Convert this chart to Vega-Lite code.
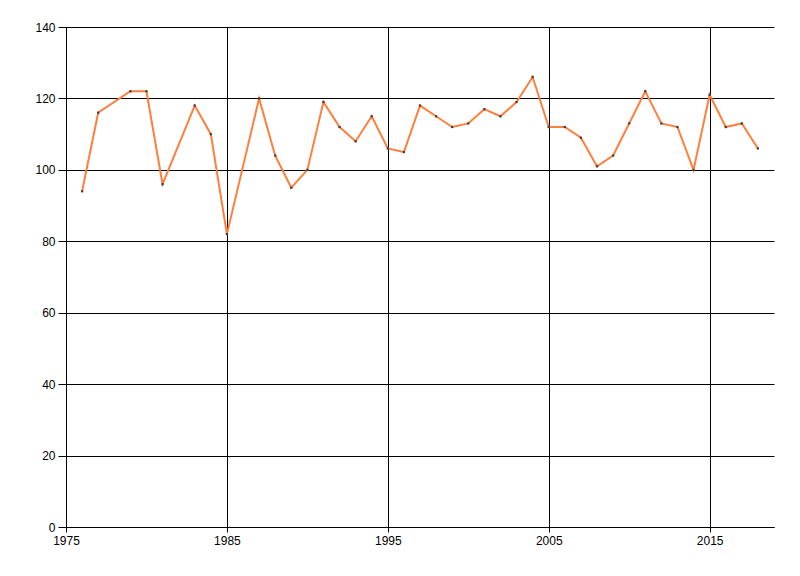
{
  "$schema": "https://vega.github.io/schema/vega-lite/v6.json",
  "width": 708,
  "height": 500,
  "autosize": {"type": "none"},
  "padding": {"left": 66, "top": 27, "right": 26, "bottom": 49},
  "background": "white",
  "config": {
    "view": {"stroke": null},
    "axis": {
      "labelFont": "Liberation Sans Narrow, Liberation Sans, sans-serif",
      "labelFontSize": 12,
      "labelColor": "#000000",
      "domainColor": "#000000",
      "tickColor": "#000000",
      "gridColor": "#000000",
      "gridOpacity": 1,
      "gridWidth": 1,
      "domainWidth": 1,
      "tickWidth": 1,
      "title": null
    }
  },
  "data": {
    "values": [
      {"year": 1976, "value": 94},
      {"year": 1977, "value": 116},
      {"year": 1979, "value": 122},
      {"year": 1980, "value": 122},
      {"year": 1981, "value": 96},
      {"year": 1983, "value": 118},
      {"year": 1984, "value": 110},
      {"year": 1985, "value": 82},
      {"year": 1987, "value": 120},
      {"year": 1988, "value": 104},
      {"year": 1989, "value": 95},
      {"year": 1990, "value": 100},
      {"year": 1991, "value": 119},
      {"year": 1992, "value": 112},
      {"year": 1993, "value": 108},
      {"year": 1994, "value": 115},
      {"year": 1995, "value": 106},
      {"year": 1996, "value": 105},
      {"year": 1997, "value": 118},
      {"year": 1998, "value": 115},
      {"year": 1999, "value": 112},
      {"year": 2000, "value": 113},
      {"year": 2001, "value": 117},
      {"year": 2002, "value": 115},
      {"year": 2003, "value": 119},
      {"year": 2004, "value": 126},
      {"year": 2005, "value": 112},
      {"year": 2006, "value": 112},
      {"year": 2007, "value": 109},
      {"year": 2008, "value": 101},
      {"year": 2009, "value": 104},
      {"year": 2010, "value": 113},
      {"year": 2011, "value": 122},
      {"year": 2012, "value": 113},
      {"year": 2013, "value": 112},
      {"year": 2014, "value": 100},
      {"year": 2015, "value": 121},
      {"year": 2016, "value": 112},
      {"year": 2017, "value": 113},
      {"year": 2018, "value": 106}
    ]
  },
  "encoding": {
    "x": {
      "field": "year",
      "type": "quantitative",
      "scale": {"domain": [1975, 2019], "nice": false, "zero": false},
      "axis": {"values": [1975, 1985, 1995, 2005, 2015], "format": "d", "grid": true, "tickSize": 5, "labelPadding": 3, "labelFlush": false}
    },
    "y": {
      "field": "value",
      "type": "quantitative",
      "scale": {"domain": [0, 140], "nice": false},
      "axis": {"values": [0, 20, 40, 60, 80, 100, 120, 140], "grid": true, "tickSize": 8, "labelPadding": 3}
    }
  },
  "layer": [
    {"mark": {"type": "line", "color": "#FF7F3F", "strokeWidth": 2}},
    {"mark": {"type": "point", "shape": "square", "filled": true, "size": 5, "color": "#404040", "opacity": 1}}
  ]
}
